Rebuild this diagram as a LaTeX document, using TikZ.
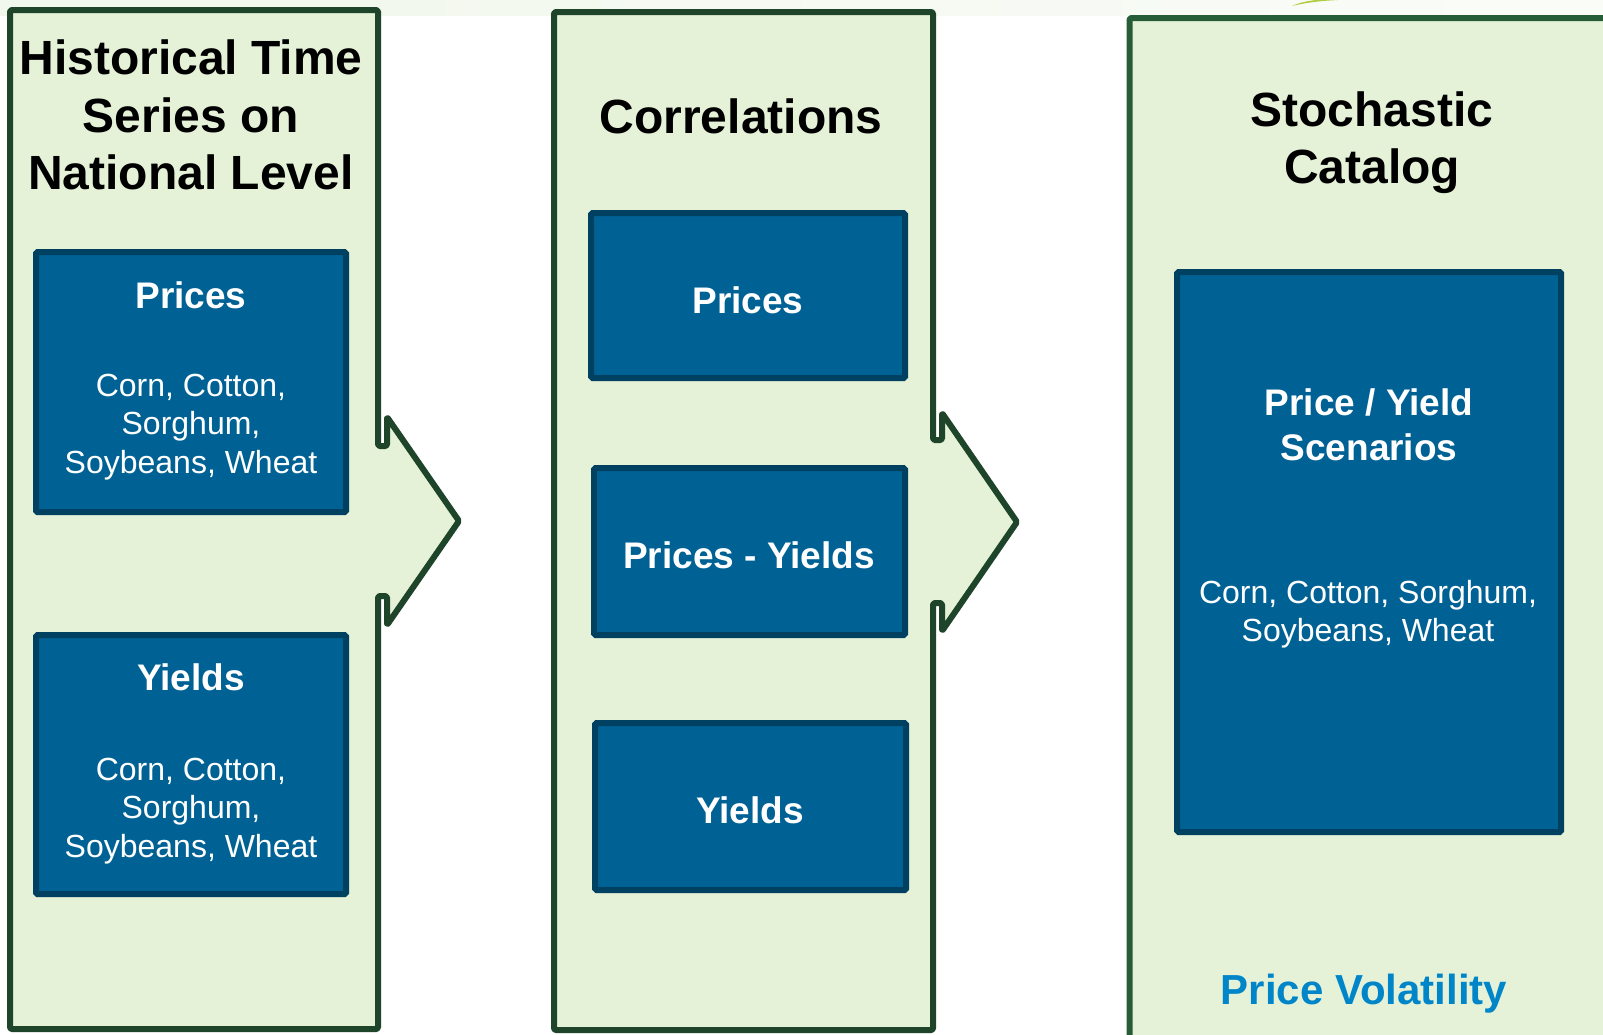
\documentclass[tikz,border=0pt]{standalone}
\usepackage{fontspec}
\setmainfont{Liberation Sans}
\definecolor{panelbg}{RGB}{229,242,216}
\definecolor{panelline}{RGB}{30,68,42}
\definecolor{panellinealt}{RGB}{38,92,56}
\definecolor{boxblue}{RGB}{0,98,148}
\definecolor{boxline}{RGB}{0,64,96}
\definecolor{notecol}{RGB}{0,133,200}
\definecolor{bandleft}{RGB}{241,247,236}
\definecolor{bandright}{RGB}{250,252,248}
\definecolor{leaf}{RGB}{176,205,64}
\begin{document}
\begin{tikzpicture}[x=1pt,y=-1pt,
  panel/.style={fill=panelbg, draw=panelline, line width=6pt, line join=round, rounded corners=1.5pt},
  panelalt/.style={panel, draw=panellinealt},
  bluebox/.style={fill=boxblue, draw=boxline, line width=6pt, rounded corners=1.5pt},
  title/.style={align=center, inner sep=0pt, font=\fontsize{48}{57.5}\selectfont\bfseries},
  boxhead/.style={align=center, inner sep=0pt, text=white, font=\fontsize{37}{45}\selectfont\bfseries},
  boxitems/.style={align=center, inner sep=0pt, text=white, font=\fontsize{32}{38.4}\selectfont},
  note/.style={inner sep=0pt, text=notecol, font=\fontsize{42}{50}\selectfont\bfseries}
]
\useasboundingbox (0,0) rectangle (1603,1034);
\clip (0,0) rectangle (1603,1034);
\fill[white] (0,0) rectangle (1603,1034);

% faint band along the top edge and the small green leaf tip
\shade[left color=bandleft, right color=bandright] (0,0) rectangle (1603,15);
\fill[leaf] (1292,6) .. controls (1302,1) and (1318,-1) .. (1338,-1) -- (1338,0) .. controls (1318,1) and (1304,3) .. (1292,6) -- cycle;

% stage 1: historical series, with its arrow notch
\draw[panel] (10,10) -- (378,10) -- (378,446) -- (387,446) -- (387,417) -- (459,521)
  -- (387,625) -- (387,596) -- (378,596) -- (378,1029) -- (10,1029) -- cycle;
% stage 2: correlations
\draw[panel] (554,12) -- (933,12) -- (933,440) -- (942,440) -- (942,413) -- (1017,522)
  -- (942,631) -- (942,603) -- (933,603) -- (933,1030) -- (554,1030) -- cycle;
% stage 3: stochastic catalog
\draw[panelalt] (1129.5,18) rectangle (1650,1080);

% stage 1 content
\node[title] (t1) at (191,115) {Historical Time\\Series on\\National Level};
\draw[bluebox] (36,252) rectangle (346,512);
\node[boxhead] (p1h) at (191,295) {Prices};
\node[boxitems] (p1i) at (191,427) {Corn, Cotton,\\Sorghum,\\Soybeans, Wheat};
\draw[bluebox] (36,635) rectangle (346,894);
\node[boxhead] (y1h) at (191,677) {Yields};
\node[boxitems] (y1i) at (191,811) {Corn, Cotton,\\Sorghum,\\Soybeans, Wheat};

% stage 2 content
\node[title] (t2) at (741,116) {Correlations};
\draw[bluebox] (591,213) rectangle (905,378);
\node[boxhead] (c1) at (748,300) {Prices};
\draw[bluebox] (594,468) rectangle (905,635);
\node[boxhead] (c2) at (749,555) {Prices - Yields};
\draw[bluebox] (595,723) rectangle (906,890);
\node[boxhead] (c3) at (750,810) {Yields};

% stage 3 content
\node[title, font=\fontsize{48}{57}\selectfont\bfseries] (t3) at (1372,143) {Stochastic\\Catalog};
\draw[bluebox] (1177,272) rectangle (1561,832);
\node[boxhead] (s1) at (1369,425) {Price / Yield\\Scenarios};
\node[boxitems, font=\fontsize{32}{38}\selectfont] (s2) at (1368,614) {Corn, Cotton, Sorghum,\\Soybeans, Wheat};
\node[note] (pv) at (1364,994) {Price Volatility};
\end{tikzpicture}
\end{document}
